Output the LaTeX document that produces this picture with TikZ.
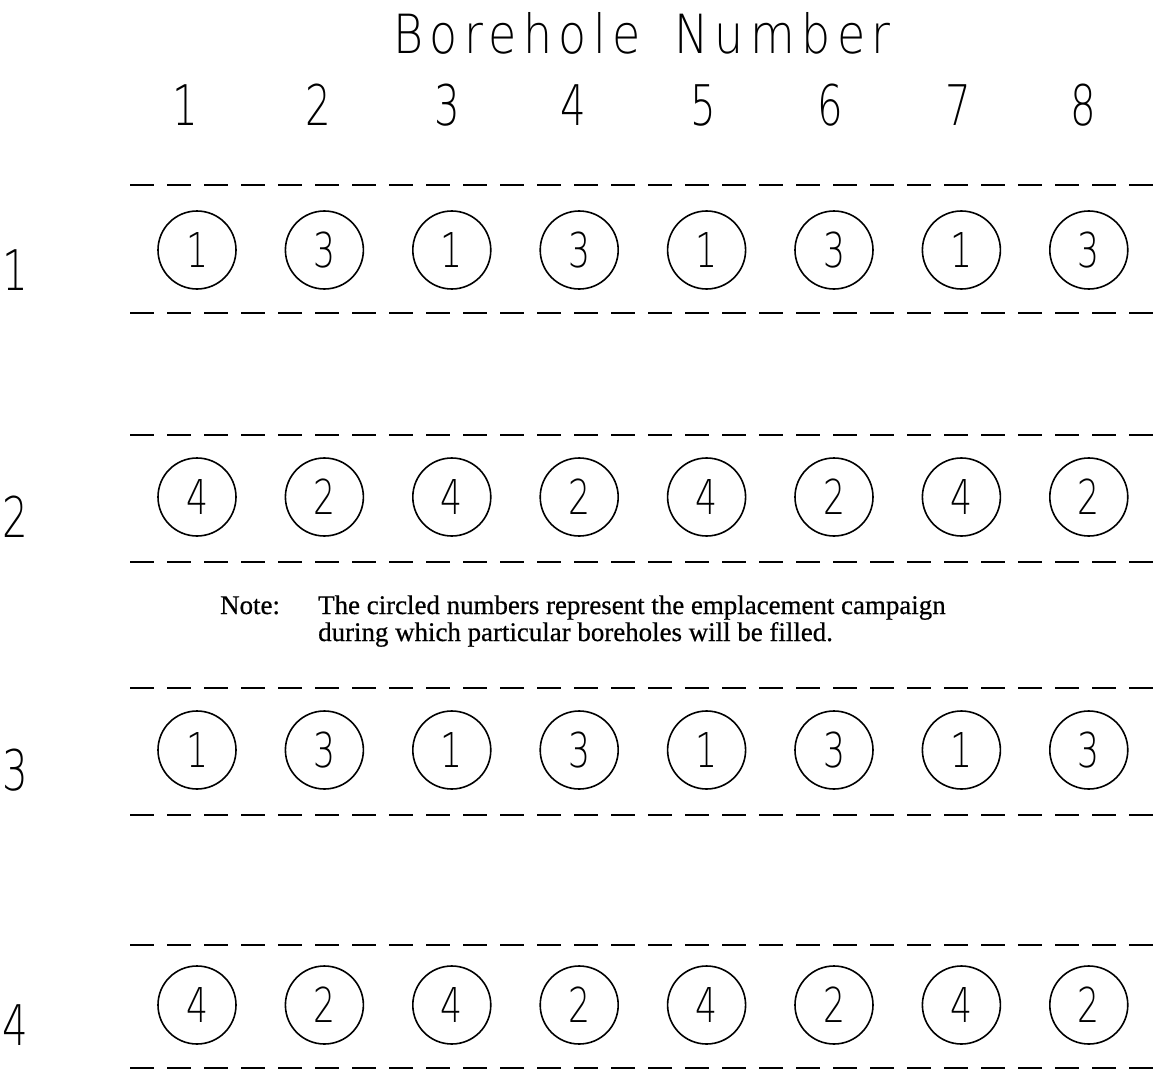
\documentclass[tikz,border=0pt]{standalone}
\usepackage{fontspec}
\newfontfamily\notefont{Liberation Serif}[FakeBold=0.6]
\newfontfamily\thinfont{DejaVu Sans ExtraLight}[FakeStretch=0.72]
\newfontfamily\titlefont{DejaVu Sans ExtraLight}[FakeStretch=0.85, LetterSpace=12]
\begin{document}
\begin{tikzpicture}[x=1pt,y=-1pt,
  hole/.style={draw, circle, line width=1.6pt, minimum size=78pt, inner sep=0pt,
    font=\thinfont\fontsize{48}{48}\selectfont},
  guide/.style={line width=1.8pt, dash pattern=on 24pt off 13pt},
  lbl/.style={font=\thinfont\fontsize{56}{56}\selectfont, inner sep=0pt},
  notetext/.style={font=\notefont\fontsize{26.9}{27}\selectfont, inner sep=0pt, anchor=base west}]
\useasboundingbox[fill=white] (0,0) rectangle (1160,1073);
% title
\node[font=\titlefont\fontsize{54}{54}\selectfont, inner sep=0pt] (title) at (642,33) {Borehole\hspace{12pt} Number};
% column headers
\foreach \n/\x in {1/185,2/318,3/447,4/573,5/703,6/830,7/958,8/1083}
  \node[lbl] (h\n) at (\x,105) {\n};
% rows
\foreach \r/\y/\top/\bot/\vals in {1/250/185/313/{1,3,1,3,1,3,1,3},
                                   2/497/435/562/{4,2,4,2,4,2,4,2},
                                   3/750/688/815/{1,3,1,3,1,3,1,3},
                                   4/1005/945/1068/{4,2,4,2,4,2,4,2}}{
  \node[lbl] (r\r) at (15,\y+20) {\r};
  \coordinate (t\r a) at (130,\top);
  \coordinate (t\r b) at (1158,\top);
  \coordinate (b\r a) at (130,\bot);
  \coordinate (b\r b) at (1158,\bot);
  \draw[guide] (t\r a) -- (t\r b);
  \draw[guide] (b\r a) -- (b\r b);
  \foreach \v [count=\c] in \vals {
    \pgfmathsetmacro{\cx}{197+127.4*(\c-1)}
    \node[hole] (c\r-\c) at (\cx,\y) {\v};
  }
}
% note
\node[notetext] (notelabel) at (220,614) {Note:};
\node[notetext] (note1) at (318,614) {The circled numbers represent the emplacement campaign};
\node[notetext] (note2) at (318,641) {during which particular boreholes will be filled.};
\end{tikzpicture}
\end{document}
